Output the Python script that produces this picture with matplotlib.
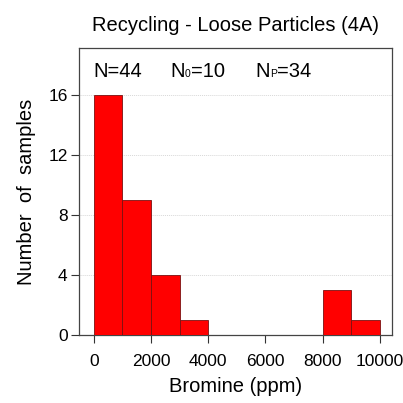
import matplotlib
matplotlib.use("Agg")
import matplotlib.pyplot as plt
import numpy as np

plt.rcParams['font.family'] = ['Liberation Sans', 'DejaVu Sans']

bin_edges = [0, 1000, 2000, 3000, 4000, 5000, 6000, 7000, 8000, 9000, 10000]
counts = [16, 9, 4, 1, 0, 0, 0, 0, 3, 1]
xticks = [0, 2000, 4000, 6000, 8000, 10000]
yticks = [0, 4, 8, 12, 16]
title = "Recycling - Loose Particles (4A)"
xlabel = "Bromine (ppm)"
ylabel = "Number  of  samples"
# (x position, main, subscript, rest)
notes = [(0, "N=44", "", ""), (2670, "N", "0", "=10"), (5640, "N", "P", "=34")]

fig = plt.figure(figsize=(4.03, 4.03), dpi=100)
ax = fig.add_axes([0.197, 0.168, 0.776, 0.7136])

lefts = np.array(bin_edges[:-1])
widths = np.diff(bin_edges)
for l, w, c in zip(lefts, widths, counts):
    if c > 0:
        ax.bar(l, c, width=w, align='edge', color='#ff0000', edgecolor='#7a1010', linewidth=0.6, zorder=3)

ax.set_xlim(-500, 10430)
ax.set_ylim(0, 19.17)
ax.set_xticks(xticks)
ax.set_yticks(yticks)
ax.yaxis.grid(True, color='#d8d8d8', linestyle=(0, (1, 1)), linewidth=0.7, zorder=0)
ax.tick_params(direction='out', length=5.5, width=0.8, labelsize=12.5, color='#333333')
ax.tick_params(axis='x', pad=8)
ax.tick_params(axis='y', pad=3)
for s in ax.spines.values():
    s.set_color('#444444')
    s.set_linewidth(0.9)

ax.set_title(title, fontsize=14.5, pad=12)
ax.set_xlabel(xlabel, fontsize=14.5, labelpad=6)
ax.set_ylabel(ylabel, fontsize=14.5, labelpad=9)

fs_main = 14.5
fs_sub = 7.5
y_base = 17.2
for x, main, sub, rest in notes:
    ax.text(x, y_base, main, fontsize=fs_main, va='baseline', ha='left')
    if sub:
        off = 0.722 * fs_main + 0.3
        ax.annotate(sub, (x, y_base), xytext=(off, 0), textcoords='offset points',
                    fontsize=fs_sub, va='baseline', ha='left')
        off2 = off + (0.556 if sub == "0" else 0.667) * fs_sub + 0.3
        ax.annotate(rest, (x, y_base), xytext=(off2, 0), textcoords='offset points',
                    fontsize=fs_main, va='baseline', ha='left')

fig.savefig("out.png", dpi=100)
